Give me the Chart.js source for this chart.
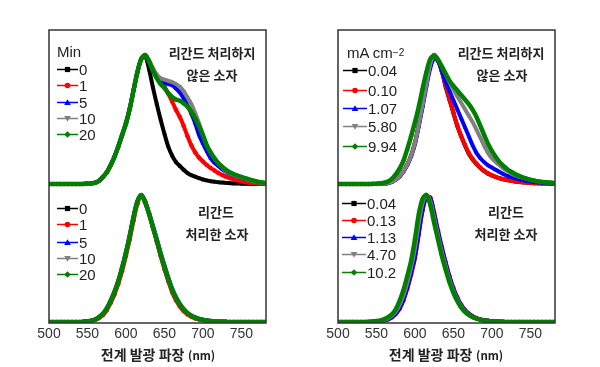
<!DOCTYPE html>
<html><head><meta charset="utf-8">
<script src="https://cdn.jsdelivr.net/npm/chart.js@4.4.1/dist/chart.umd.min.js"></script>
<style>
html,body{margin:0;padding:0;background:#fff;}
#wrap{position:relative;width:600px;height:367px;overflow:hidden;font-family:"Liberation Sans",Arial,sans-serif;}
canvas{position:absolute;top:0;}
.ann{position:absolute;font-family:"Noto Sans CJK KR",sans-serif;font-weight:bold;font-size:13px;color:#222;white-space:nowrap;line-height:1;transform:translate(-50%,-50%);}
.leg{position:absolute;font-size:15px;color:#222;white-space:nowrap;line-height:1;display:flex;align-items:center;transform:translateY(-50%);}
.leg svg{display:block;margin-right:1px;}
.ttl{position:absolute;font-family:"Noto Sans CJK KR",sans-serif;font-weight:bold;color:#222;white-space:nowrap;line-height:1;transform:translate(-50%,-50%);}
sup{font-size:10px;vertical-align:6px;line-height:0;}
</style></head>
<body>
<div id="wrap">
<canvas id="cL" width="300" height="367" style="left:0"></canvas>
<canvas id="cR" width="300" height="367" style="left:300px"></canvas>
</div>
<script>
// ---------- DATA ----------
const wl = [500,505,510,515,520,525,530,535,540,545,550,555,560,565,570,575,580,585,590,595,600,605,610,615,620,625,630,635,640,645,650,655,660,665,670,675,680,685,690,695,700,705,710,715,720,725,730,735,740,745,750,755,760,765,770,775,780];
const xTickValues = [500,550,600,650,700,750];

const minLabels = ['0','1','5','10','20'];
const untreatedCurrentLabels = ['0.04','0.10','1.07','5.80','9.94'];
const treatedCurrentLabels = ['0.04','0.13','1.13','4.70','10.2'];

// Top-left: untreated device, vs. time (min)
const tl_0  = [0,0,0,0,0,0,0,0,0,0.001,0.002,0.005,0.01,0.025,0.055,0.09,0.145,0.21,0.29,0.38,0.47,0.585,0.73,0.87,0.97,0.99,0.89,0.75,0.62,0.5,0.39,0.29,0.22,0.17,0.14,0.11,0.085,0.068,0.057,0.045,0.035,0.028,0.022,0.018,0.014,0.011,0.009,0.007,0.005,0.004,0.003,0.002,0.001,0,0,0,0];
const tl_1  = [0,0,0,0,0,0,0,0,0,0.001,0.002,0.005,0.01,0.025,0.055,0.09,0.145,0.21,0.29,0.38,0.47,0.585,0.73,0.87,0.97,1.0,0.95,0.89,0.83,0.795,0.755,0.7,0.64,0.575,0.52,0.45,0.37,0.3,0.245,0.205,0.175,0.148,0.125,0.105,0.085,0.07,0.057,0.046,0.036,0.028,0.021,0.015,0.01,0.007,0.005,0.003,0.002];
const tl_5  = [0,0,0,0,0,0,0,0,0,0.001,0.002,0.005,0.01,0.025,0.055,0.09,0.145,0.21,0.29,0.38,0.47,0.585,0.73,0.87,0.97,1.0,0.95,0.89,0.835,0.8,0.785,0.775,0.765,0.74,0.71,0.665,0.61,0.545,0.47,0.38,0.315,0.255,0.2,0.165,0.14,0.115,0.095,0.08,0.068,0.058,0.048,0.038,0.03,0.022,0.015,0.01,0.006];
const tl_10 = [0,0,0,0,0,0,0,0,0,0.001,0.002,0.005,0.01,0.025,0.055,0.09,0.145,0.21,0.29,0.38,0.47,0.585,0.73,0.87,0.97,1.0,0.96,0.9,0.85,0.82,0.81,0.8,0.79,0.775,0.755,0.72,0.67,0.62,0.55,0.47,0.38,0.3,0.245,0.2,0.165,0.13,0.1,0.085,0.07,0.06,0.05,0.04,0.03,0.022,0.015,0.01,0.007];
const tl_20 = [0,0,0,0,0,0,0,0,0,0.001,0.002,0.005,0.01,0.025,0.055,0.09,0.145,0.21,0.29,0.38,0.47,0.585,0.73,0.87,0.97,1.0,0.95,0.88,0.82,0.775,0.745,0.705,0.675,0.655,0.645,0.625,0.6,0.56,0.51,0.45,0.38,0.3,0.245,0.2,0.16,0.135,0.11,0.092,0.078,0.066,0.055,0.045,0.036,0.028,0.02,0.014,0.01];

// Bottom-left: ligand-treated device, vs. time (min)
const bl_0  = [0,0,0,0,0,0,0,0,0,0.002,0.005,0.01,0.02,0.038,0.063,0.105,0.165,0.235,0.32,0.425,0.545,0.68,0.83,0.95,1.0,0.94,0.85,0.745,0.64,0.53,0.43,0.335,0.25,0.185,0.135,0.095,0.067,0.047,0.033,0.023,0.016,0.011,0.007,0.005,0.003,0.002,0.001,0,0,0,0,0,0,0,0,0,0];
const bl_1  = [0,0,0,0,0,0,0,0,0,0.001,0.004,0.008,0.016,0.031,0.054,0.092,0.148,0.215,0.298,0.4,0.52,0.65,0.8,0.93,0.995,0.95,0.855,0.745,0.635,0.52,0.415,0.32,0.235,0.17,0.122,0.085,0.059,0.041,0.028,0.019,0.013,0.009,0.006,0.004,0.002,0.001,0.001,0,0,0,0,0,0,0,0,0,0];
const bl_5  = [0,0,0,0,0,0,0,0,0,0.002,0.005,0.01,0.02,0.038,0.063,0.105,0.165,0.235,0.32,0.425,0.545,0.68,0.83,0.95,1.0,0.945,0.86,0.76,0.655,0.548,0.448,0.352,0.265,0.197,0.145,0.103,0.073,0.052,0.036,0.025,0.018,0.012,0.008,0.005,0.003,0.002,0.001,0,0,0,0,0,0,0,0,0,0];
const bl_10 = [0,0,0,0,0,0,0,0,0,0.002,0.005,0.01,0.02,0.038,0.063,0.105,0.165,0.235,0.32,0.425,0.545,0.68,0.83,0.95,1.0,0.942,0.855,0.752,0.648,0.54,0.44,0.344,0.258,0.19,0.14,0.099,0.07,0.05,0.035,0.024,0.017,0.011,0.007,0.005,0.003,0.002,0.001,0,0,0,0,0,0,0,0,0,0];
const bl_20 = [0,0,0,0,0,0,0,0,0,0.002,0.005,0.01,0.02,0.038,0.064,0.106,0.166,0.237,0.322,0.428,0.548,0.683,0.832,0.952,1.0,0.94,0.852,0.748,0.645,0.535,0.435,0.34,0.255,0.19,0.138,0.098,0.069,0.049,0.034,0.024,0.017,0.011,0.007,0.005,0.003,0.002,0.001,0,0,0,0,0,0,0,0,0,0];

// Top-right: untreated device, vs. current density (mA cm-2)
const tr_004 = [0,0,0,0,0,0,0,0,0,0,0.001,0.002,0.003,0.008,0.018,0.035,0.06,0.1,0.15,0.22,0.32,0.46,0.62,0.78,0.93,1.0,0.96,0.87,0.75,0.65,0.55,0.45,0.37,0.3,0.235,0.19,0.155,0.125,0.1,0.08,0.066,0.054,0.045,0.037,0.03,0.025,0.02,0.016,0.013,0.011,0.009,0.007,0.006,0.005,0.004,0.003,0.003];
const tr_010 = [0,0,0,0,0,0,0,0,0,0,0.001,0.002,0.003,0.008,0.018,0.035,0.06,0.1,0.15,0.22,0.32,0.46,0.62,0.78,0.93,1.0,0.96,0.875,0.76,0.655,0.555,0.455,0.375,0.305,0.24,0.195,0.158,0.128,0.103,0.083,0.068,0.056,0.046,0.038,0.031,0.026,0.021,0.017,0.014,0.011,0.009,0.007,0.006,0.005,0.004,0.003,0.003];
const tr_107 = [0,0,0,0,0,0,0,0,0,0,0.001,0.002,0.003,0.008,0.017,0.034,0.058,0.097,0.146,0.214,0.31,0.45,0.6,0.76,0.9,0.975,0.95,0.88,0.79,0.72,0.65,0.58,0.51,0.44,0.37,0.3,0.24,0.2,0.17,0.145,0.128,0.11,0.093,0.077,0.063,0.054,0.045,0.037,0.03,0.024,0.019,0.015,0.012,0.01,0.008,0.006,0.005];
const tr_580 = [0,0,0,0,0,0,0,0,0,0,0.001,0.002,0.003,0.008,0.018,0.035,0.06,0.1,0.15,0.22,0.32,0.46,0.62,0.78,0.93,1.0,0.97,0.91,0.85,0.79,0.735,0.68,0.63,0.58,0.53,0.48,0.42,0.36,0.295,0.24,0.2,0.17,0.145,0.12,0.1,0.083,0.068,0.058,0.049,0.041,0.034,0.028,0.023,0.018,0.014,0.011,0.009];
const tr_994 = [0,0,0,0,0,0,0,0,0,0.002,0.003,0.005,0.01,0.02,0.04,0.075,0.12,0.18,0.27,0.37,0.48,0.6,0.74,0.87,0.97,0.995,0.96,0.91,0.855,0.8,0.76,0.725,0.69,0.655,0.62,0.575,0.52,0.45,0.38,0.31,0.255,0.21,0.17,0.14,0.115,0.095,0.078,0.064,0.052,0.042,0.033,0.026,0.02,0.016,0.013,0.011,0.009];

// Bottom-right: ligand-treated device, vs. current density (mA cm-2)
const br_004 = [0,0,0,0,0,0,0,0,0,0.002,0.004,0.007,0.013,0.024,0.042,0.07,0.115,0.185,0.28,0.395,0.53,0.72,0.9,0.99,0.97,0.84,0.7,0.57,0.45,0.345,0.255,0.185,0.13,0.09,0.062,0.042,0.028,0.019,0.013,0.009,0.006,0.004,0.002,0.001,0,0,0,0,0,0,0,0,0,0,0,0,0];
const br_013 = [0,0,0,0,0,0,0,0,0,0.001,0.003,0.006,0.011,0.02,0.036,0.062,0.102,0.167,0.26,0.37,0.5,0.69,0.88,0.985,0.98,0.86,0.72,0.59,0.47,0.36,0.268,0.195,0.138,0.096,0.066,0.045,0.03,0.02,0.014,0.01,0.006,0.004,0.002,0.001,0,0,0,0,0,0,0,0,0,0,0,0,0];
const br_113 = [0,0,0,0,0,0,0,0,0,0.001,0.003,0.006,0.012,0.022,0.039,0.066,0.108,0.176,0.27,0.383,0.515,0.705,0.89,0.985,0.975,0.85,0.71,0.58,0.46,0.352,0.262,0.19,0.134,0.093,0.064,0.043,0.029,0.02,0.013,0.009,0.006,0.004,0.002,0.001,0,0,0,0,0,0,0,0,0,0,0,0,0];
const br_470 = [0,0,0,0,0,0,0,0,0,0.003,0.005,0.009,0.016,0.029,0.049,0.082,0.135,0.21,0.31,0.43,0.58,0.78,0.94,1.0,0.95,0.815,0.68,0.55,0.435,0.33,0.245,0.177,0.124,0.086,0.059,0.04,0.027,0.018,0.012,0.008,0.005,0.003,0.002,0.001,0,0,0,0,0,0,0,0,0,0,0,0,0];
const br_102 = [0,0,0,0,0,0,0,0,0.002,0.004,0.007,0.012,0.022,0.038,0.06,0.1,0.165,0.25,0.36,0.48,0.65,0.85,0.97,1.0,0.92,0.78,0.65,0.52,0.41,0.31,0.23,0.165,0.115,0.08,0.055,0.038,0.026,0.018,0.012,0.008,0.005,0.003,0.002,0.001,0,0,0,0,0,0,0,0,0,0,0,0,0];

// ---------- STYLE ----------
const colors = ['#000000','#ff0000','#0000ff','#808080','#008000'];
const pStyles = ['rect','circle','triangle','triangle','rectRot'];
const pRot = [0,0,0,180,0];

function mkDs(arr, i, axis) {
  return {
    data: wl.map((x, k) => ({x: x, y: arr[k]})),
    yAxisID: axis, xAxisID: 'x',
    borderColor: colors[i], backgroundColor: colors[i],
    borderWidth: i === 4 ? 4.5 : 4, pointRadius: 2, pointBorderWidth: 0.5,
    pointStyle: pStyles[i], pointRotation: pRot[i],
    fill: false, tension: 0.3, order: 4 - i
  };
}

const framePlugin = {
  id: 'frame',
  afterDraw(chart) {
    const a = chart.chartArea, c = chart.ctx;
    c.save(); c.strokeStyle = '#333'; c.lineWidth = 1.5;
    c.strokeRect(a.left, a.top, a.right - a.left, a.bottom - a.top);
    c.restore();
  }
};

function makeChart(id, topSeries, botSeries, pad) {
  const ds = [];
  topSeries.forEach((s, i) => ds.push(mkDs(s, i, 'yTop')));
  botSeries.forEach((s, i) => ds.push(mkDs(s, i, 'yBot')));
  return new Chart(document.getElementById(id), {
    type: 'line',
    data: {datasets: ds},
    options: {
      responsive: false, animation: false, events: [],
      layout: {padding: pad},
      plugins: {legend: {display: false}, tooltip: {enabled: false}},
      scales: {
        x: {type: 'linear', min: 500, max: 782,
            grid: {display: false, drawTicks: false}, border: {display: false},
            afterBuildTicks: s => { s.ticks = xTickValues.map(v => ({value: v})); },
            afterFit: s => { s.height = 20; },
            ticks: {color: '#333', padding: 3, maxRotation: 0, autoSkip: false,
                    font: {family: '"Liberation Sans", Arial, sans-serif', size: 14}}},
        yTop: {type: 'linear', position: 'left', stack: 'v', stackWeight: 157, weight: 2,
               min: -0.023, max: 1.194, display: false},
        yBot: {type: 'linear', position: 'left', stack: 'v', stackWeight: 136, weight: 1,
               min: -0.008, max: 1.063, display: false}
      }
    },
    plugins: [framePlugin]
  });
}

makeChart('cL', [tl_0, tl_1, tl_5, tl_10, tl_20], [bl_0, bl_1, bl_5, bl_10, bl_20], {left: 49, right: 34, top: 30, bottom: 24});
makeChart('cR', [tr_004, tr_010, tr_107, tr_580, tr_994], [br_004, br_013, br_113, br_470, br_102], {left: 38, right: 45, top: 30, bottom: 24});

// ---------- HTML text: legends, notes, axis titles ----------
const wrap = document.getElementById('wrap');
function markerSvg(i, w) {
  const cx = w / 2, cy = 5, c = colors[i];
  let m = '';
  if (i === 0) m = `<rect x="${cx-2.6}" y="${cy-2.6}" width="5.2" height="5.2" fill="${c}"/>`;
  else if (i === 1) m = `<circle cx="${cx}" cy="${cy}" r="2.8" fill="${c}"/>`;
  else if (i === 2) m = `<polygon points="${cx},${cy-3.3} ${cx-3.3},${cy+2.5} ${cx+3.3},${cy+2.5}" fill="${c}"/>`;
  else if (i === 3) m = `<polygon points="${cx},${cy+3.3} ${cx-3.3},${cy-2.5} ${cx+3.3},${cy-2.5}" fill="${c}"/>`;
  else m = `<polygon points="${cx},${cy-3.3} ${cx+3.3},${cy} ${cx},${cy+3.3} ${cx-3.3},${cy}" fill="${c}"/>`;
  return `<svg width="${w}" height="10"><line x1="0" y1="5" x2="${w}" y2="5" stroke="${c}" stroke-width="1.6"/>${m}</svg>`;
}
function addDiv(cls, x, y, html, extra) {
  const d = document.createElement('div');
  d.className = cls; d.style.left = x + 'px'; d.style.top = y + 'px';
  if (extra) Object.assign(d.style, extra);
  d.innerHTML = html; wrap.appendChild(d); return d;
}
function legend(x, ys, labels, w) {
  labels.forEach((t, i) => addDiv('leg', x, ys[i], markerSvg(i, w) + '<span>' + t + '</span>'));
}
// titles of legends
addDiv('leg', 57, 51, 'Min');
addDiv('leg', 347, 52, 'mA cm<sup>&minus;2</sup>');
legend(57, [69, 85, 102, 118, 134], minLabels, 21);
legend(57, [208, 224, 242, 258, 274], minLabels, 21);
legend(343, [70, 90, 108, 126, 146], untreatedCurrentLabels, 24);
legend(342, [203, 220, 237, 254, 272], treatedCurrentLabels, 24);

// notes
addDiv('ann', 212, 52, '리간드 처리하지');
addDiv('ann', 212, 74, '않은 소자');
addDiv('ann', 216, 211, '리간드');
addDiv('ann', 217, 233, '처리한 소자');
addDiv('ann', 501, 52, '리간드 처리하지');
addDiv('ann', 502, 74, '않은 소자');
addDiv('ann', 506, 211, '리간드');
addDiv('ann', 506, 233, '처리한 소자');

// x-axis titles
const ttl = '<span style="font-size:14px">전계 발광 파장</span> <span style="font-size:11.5px">(nm)</span>';
addDiv('ttl', 158, 353, ttl);
addDiv('ttl', 446, 353, ttl);
</script>
</body></html>
